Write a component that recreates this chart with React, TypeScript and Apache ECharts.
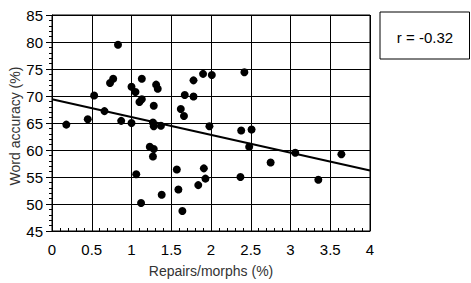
import React, { useEffect, useRef } from "react";
import * as echarts from "echarts";

const repairs = [
  0.18, 0.45, 0.53, 0.66, 0.73, 0.77, 0.83, 0.87, 1.0, 1.0, 1.05, 1.1, 1.13, 1.13,
  1.28, 1.27, 1.28, 1.31, 1.33, 1.37, 1.62, 1.66, 1.67, 1.78, 1.78, 1.9, 2.01, 2.42,
  1.98, 2.38, 2.51, 1.23, 1.28, 1.27, 1.06, 1.12, 1.38, 1.57, 1.59, 1.64, 1.84,
  2.48, 2.75, 3.06, 3.64, 3.35, 2.37, 1.91, 1.93,
];
const accuracy = [
  64.7, 65.7, 70.1, 67.2, 72.4, 73.2, 79.5, 65.4, 71.7, 65.0, 70.75, 68.9, 69.4, 73.2,
  68.2, 65.1, 64.4, 72.1, 71.35, 64.5, 67.6, 66.3, 70.2, 69.9, 72.9, 74.1, 73.9, 74.4,
  64.4, 63.6, 63.8, 60.6, 60.2, 58.8, 55.5, 50.2, 51.7, 56.4, 52.7, 48.7, 53.5,
  60.6, 57.7, 59.5, 59.2, 54.5, 55.0, 56.6, 54.7,
];
const fitX = [0, 4];
const fitY = [69.4, 56.2];
const rLabel = "r = -0.32";
const xTitle = "Repairs/morphs (%)";
const yTitle = "Word accuracy (%)";

export default function App() {
  const ref = useRef<HTMLDivElement>(null);
  useEffect(() => {
    if (!ref.current) return;
    const chart = echarts.init(ref.current, undefined, { renderer: "svg" });
    const font = "Liberation Sans, Arial, sans-serif";
    chart.setOption({
      animation: false,
      textStyle: { fontFamily: font },
      grid: { left: 52, right: 101, top: 15, bottom: 45, show: true, borderColor: "#000", borderWidth: 1 },
      xAxis: {
        type: "value",
        min: 0,
        max: 4,
        interval: 0.5,
        name: xTitle,
        nameLocation: "middle",
        nameGap: 33,
        nameTextStyle: { color: "#333", fontSize: 14, fontFamily: font, width: 300, overflow: "none" },
        axisLine: { lineStyle: { color: "#000", width: 1 } },
        axisTick: { show: true, inside: true, length: 3, lineStyle: { color: "#000" } },
        minorTick: { show: true, splitNumber: 5, length: 3, lineStyle: { color: "#000" } },
        axisLabel: { color: "#000", fontSize: 15, margin: 11, fontFamily: font },
        splitLine: { show: true, lineStyle: { color: "#000", width: 1 } },
      },
      yAxis: {
        type: "value",
        min: 45,
        max: 85,
        interval: 5,
        axisLine: { show: true, lineStyle: { color: "#000", width: 1 } },
        axisTick: { show: true, length: 6, lineStyle: { color: "#000" } },
        minorTick: { show: true, splitNumber: 5, length: 3, lineStyle: { color: "#000" } },
        axisLabel: { color: "#000", fontSize: 15, margin: 9, fontFamily: font },
        splitLine: { show: true, lineStyle: { color: "#000", width: 1 } },
      },
      series: [
        {
          type: "line",
          data: fitX.map((x, i) => [x, fitY[i]]),
          symbol: "none",
          lineStyle: { color: "#000", width: 2 },
          z: 3,
        },
        {
          type: "scatter",
          data: repairs.map((x, i) => [x, accuracy[i]]),
          symbol: "circle",
          symbolSize: 8,
          itemStyle: { color: "#000", opacity: 1 },
          z: 4,
        },
      ],
      graphic: [
        {
          type: "text",
          x: 15,
          y: 126,
          rotation: Math.PI / 2,
          style: {
            text: yTitle,
            fill: "#333",
            fontSize: 14,
            fontFamily: font,
            align: "center",
            verticalAlign: "middle",
          },
        },
        {
          type: "rect",
          shape: { x: 380, y: 12, width: 89.5, height: 47 },
          style: { fill: "#fff", stroke: "#000", lineWidth: 1 },
        },
        {
          type: "text",
          x: 425,
          y: 37,
          style: {
            text: rLabel,
            fill: "#000",
            fontSize: 15,
            fontFamily: font,
            align: "center",
            verticalAlign: "middle",
          },
        },
      ],
    });
    return () => chart.dispose();
  }, []);
  return (
    <div
      ref={ref}
      style={{ position: "fixed", left: 0, top: 0, width: 471, height: 283, background: "#fff" }}
    />
  );
}
